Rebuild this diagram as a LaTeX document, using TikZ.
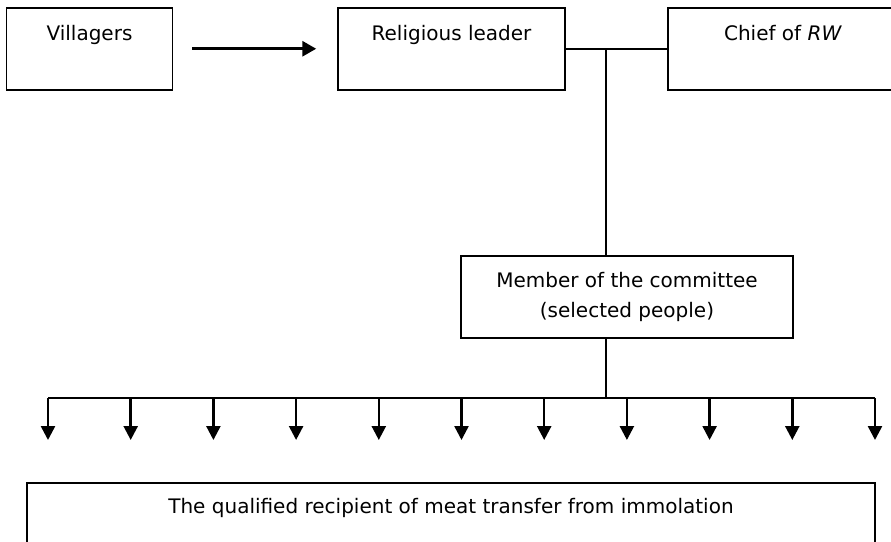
\documentclass[tikz,border=0pt]{standalone}
\usepackage{fontspec}
\setmainfont{DejaVu Sans}
\usetikzlibrary{arrows, arrows.meta, calc}

\begin{document}
\begin{tikzpicture}[x=1pt,y=-1pt,font=\fontsize{20}{30}\selectfont,
  frame/.style={draw,line width=1.5pt,anchor=north,inner sep=0pt},
  topbox/.style={frame,text height=33pt,text depth=49pt},
  link/.style={line width=1.5pt},
  bigarrow/.style={line width=3pt,-{Triangle[length=14pt,width=15pt]}},
  smallarrow/.style={line width=2.5pt,-{Triangle[length=14pt,width=14pt]}}]
\useasboundingbox (0,0) rectangle (891,541);
\clip (0,0) rectangle (891,541); % boxes run off the page

\node[topbox,minimum width=166pt] (vil)   at (89.5,7)  {Villagers};
\node[topbox,minimum width=227pt] (rel)   at (451.5,7) {Religious leader};
\node[topbox,minimum width=230pt] (chief) at (783,7)   {Chief of \textit{RW}};
\node[frame,minimum width=332pt,minimum height=82pt,align=center] (mem) at (627,255)
  {Member of the committee\\(selected people)};
\node[frame,minimum width=848pt,text height=31pt,text depth=80pt] (rec) at (451,482)
  {The qualified recipient of meat transfer from immolation};

\draw[bigarrow,shorten <=19pt,shorten >=21pt] (vil) -- (rel); %villagers to leader
\draw[link] (rel) -- (chief);

\coordinate (jn) at (606,48);
\coordinate (split) at (606,398);
\draw[link] (jn) -- (jn |- mem.north);
\draw[link] (mem.south -| split) -- (split);

\coordinate (barL) at (48,398);
\coordinate (barR) at (875,398);
\draw[link] (barL) -- (barR); %distribution bar
\foreach \i in {0,...,10}
  \draw[smallarrow] ($(barL)+(82.7*\i,0)$) -- ++(0,42);
\end{tikzpicture}
\end{document}
